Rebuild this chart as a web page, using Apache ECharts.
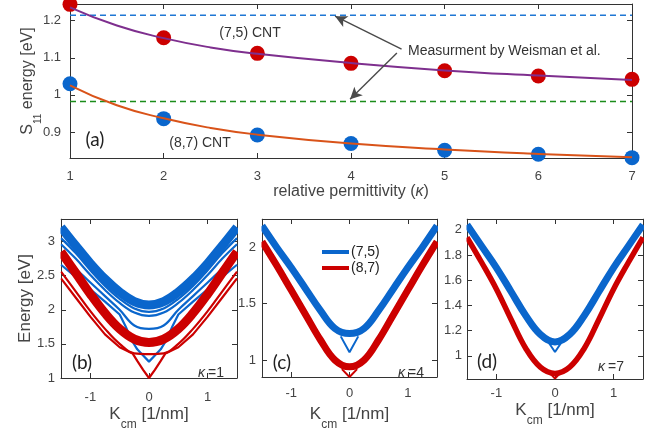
<!DOCTYPE html>
<html>
<head>
<meta charset="utf-8">
<script src="https://cdn.jsdelivr.net/npm/echarts@6/dist/echarts.min.js"></script>
<style>
  html, body { margin: 0; padding: 0; background: #fff; }
  #chart { width: 667px; height: 432px; }
</style>
</head>
<body>
<div id="chart"></div>
<script>
// ---- panel (a): S11 energy vs relative permittivity ----
const kappa = [1, 2, 3, 4, 5, 6, 7]
const s11_75 = [1.244, 1.154, 1.112, 1.085, 1.065, 1.051, 1.042]
const s11_87 = [1.030, 0.936, 0.892, 0.869, 0.851, 0.840, 0.831]
const kappaFit = [1, 1.5, 2, 2.5, 3, 4, 5, 6, 7]
const fit_75 = [1.236, 1.187, 1.153, 1.128, 1.111, 1.086, 1.066, 1.052, 1.040]
const fit_87 = [1.026, 0.972, 0.937, 0.911, 0.893, 0.869, 0.853, 0.841, 0.832]
const meas_75 = 1.215
const meas_87 = 0.982

// ---- panels (b)-(d): exciton bands, half branch k >= 0 (mirrored) ----
const kHalf = [0, 0.25, 0.5, 0.75, 1, 1.25, 1.5]
// (b) kappa = 1
const b75Band = [2.07, 2.12, 2.26, 2.45, 2.68, 2.94, 3.21]
const b75L1 = [1.97, 2.02, 2.16, 2.35, 2.58, 2.83, 3.05]
const b75L2 = [1.91, 1.96, 2.10, 2.29, 2.51, 2.75, 2.96]
const b75L3 = [1.72, 1.77, 2.00, 2.20, 2.40, 2.60, 2.80]
const kVb75 = [0, 0.1, 0.2, 0.3, 0.4, 0.5, 0.75, 1, 1.25, 1.5]
const b75V = [1.24, 1.33, 1.42, 1.56, 1.76, 1.93, 2.12, 2.30, 2.48, 2.66]
const b87Band = [1.52, 1.57, 1.72, 1.95, 2.23, 2.54, 2.85]
const b87L1 = [1.35, 1.36, 1.50, 1.72, 1.98, 2.27, 2.56]
const kVb87 = [0, 0.1, 0.2, 0.28, 0.5, 0.75, 1, 1.25, 1.5]
const b87V = [1.00, 1.12, 1.25, 1.36, 1.45, 1.64, 1.90, 2.18, 2.46]
// (c) kappa = 4
const c75Band = [1.235, 1.28, 1.44, 1.63, 1.82, 2.00, 2.19]
const c87Band = [0.94, 1.00, 1.18, 1.40, 1.62, 1.84, 2.05]
const kVc75 = [0, 0.15]
const c75V = [1.07, 1.21]
const kVc87 = [0, 0.13]
const c87V = [0.85, 0.92]
// (d) kappa = 7
const d75Band = [1.11, 1.17, 1.32, 1.51, 1.70, 1.87, 2.04]
const d87Band = [0.86, 0.91, 1.06, 1.29, 1.53, 1.74, 1.94]
const kVd75 = [0, 0.1]
const d75V = [1.03, 1.10]
const kVd87 = [0, 0.08]
const d87V = [0.82, 0.86]

const kTicks = [-1, 0, 1]

const BLUE = '#0a66cc'
const RED = '#cc0000'
const AX = '#333333'
const TXT = '#444444'
const FONT = 'Liberation Sans'

const mirror = (ks, vals) => {
  const out = []
  for (let i = ks.length - 1; i > 0; i--) out.push([-ks[i], vals[i]])
  for (let i = 0; i < ks.length; i++) out.push([ks[i], vals[i]])
  return out
}

const axisBase = (ticks, extra) => Object.assign({
  type: 'value',
  nameMoveOverlap: false,
  axisLine: { show: true, onZero: false, lineStyle: { color: AX, width: 1 } },
  axisTick: { show: true, inside: true, length: 5, lineStyle: { color: AX }, customValues: ticks },
  axisLabel: { color: TXT, fontSize: 13, fontFamily: FONT, customValues: ticks },
  splitLine: { show: false }
}, extra)

const xAxes = []
const yAxes = []
const addBox = (grid, xr, yr, xt, yt, xName, yName) => {
  xAxes.push(axisBase(xt, Object.assign({ gridIndex: grid, min: xr[0], max: xr[1], position: 'bottom' }, xName)))
  const top = axisBase(xt, { gridIndex: grid, min: xr[0], max: xr[1], position: 'top' })
  top.axisLabel = { show: false, customValues: xt }
  xAxes.push(top)
  yAxes.push(axisBase(yt, Object.assign({ gridIndex: grid, min: yr[0], max: yr[1], position: 'left' }, yName)))
  const right = axisBase(yt, { gridIndex: grid, min: yr[0], max: yr[1], position: 'right' })
  right.axisLabel = { show: false, customValues: yt }
  yAxes.push(right)
}

const kcmName = gap => ({
  name: '{a|K}{s|cm}{a| [1/nm]}',
  nameLocation: 'middle',
  nameGap: gap,
  nameTextStyle: {
    rich: {
      a: { fontSize: 17, color: TXT, fontFamily: FONT, lineHeight: 20 },
      s: { fontSize: 12, color: TXT, fontFamily: FONT, lineHeight: 20, verticalAlign: 'bottom', padding: [0, 0, -7, 0] }
    }
  }
})

// (a)
addBox(0, [1, 7], [0.83, 1.245], kappa, [0.9, 1, 1.1, 1.2],
  {
    axisLabel: { color: TXT, fontSize: 13, fontFamily: FONT, margin: 12, customValues: kappa },
    name: '{a|relative permittivity (}{i|κ}{a|)}',
    nameLocation: 'middle',
    nameGap: 26,
    nameTextStyle: {
      rich: {
        a: { fontSize: 16, color: TXT, fontFamily: FONT },
        i: { fontSize: 16, color: TXT, fontFamily: FONT, fontStyle: 'italic' }
      }
    }
  },
  {
    axisLabel: { color: TXT, fontSize: 13, fontFamily: FONT, margin: 9, customValues: [0.9, 1, 1.1, 1.2] },
    name: '{a|S}{s|11}{a| energy [eV]}',
    nameLocation: 'middle',
    nameGap: 33,
    nameTextStyle: {
      rich: {
        a: { fontSize: 16, color: TXT, fontFamily: FONT, lineHeight: 18 },
        s: { fontSize: 10, color: TXT, fontFamily: FONT, lineHeight: 18, verticalAlign: 'bottom', padding: [0, 0, -6, 0] }
      }
    }
  })
// (b)
addBox(1, [-1.5, 1.5], [1, 3.33], kTicks, [1, 1.5, 2, 2.5, 3],
  Object.assign({ axisLabel: { color: TXT, fontSize: 13, fontFamily: FONT, margin: 13, customValues: kTicks } }, kcmName(26)),
  {
    axisLabel: { color: TXT, fontSize: 13, fontFamily: FONT, margin: 6, customValues: [1, 1.5, 2, 2.5, 3] },
    name: 'Energy [eV]', nameLocation: 'middle', nameGap: 27,
    nameTextStyle: { fontSize: 17, color: TXT, fontFamily: FONT }
  })
// (c)
addBox(2, [-1.5, 1.5], [0.85, 2.25], kTicks, [1, 1.5, 2],
  Object.assign({ axisLabel: { color: TXT, fontSize: 13, fontFamily: FONT, margin: 10, customValues: kTicks } }, kcmName(27)),
  { axisLabel: { color: TXT, fontSize: 13, fontFamily: FONT, margin: 6, customValues: [1, 1.5, 2] } })
// (d)
addBox(3, [-1.5, 1.5], [0.816, 2.085], kTicks, [1, 1.2, 1.4, 1.6, 1.8, 2],
  Object.assign({ axisLabel: { color: TXT, fontSize: 13, fontFamily: FONT, margin: 8, customValues: kTicks } }, kcmName(21)),
  { axisLabel: { color: TXT, fontSize: 13, fontFamily: FONT, margin: 5, customValues: [1, 1.2, 1.4, 1.6, 1.8, 2] } })

const band = (grid, data, color, width, name, smooth) => ({
  type: 'line',
  name: name,
  xAxisIndex: grid * 2,
  yAxisIndex: grid * 2,
  data: data,
  showSymbol: false,
  smooth: smooth === undefined ? 0.4 : smooth,
  lineStyle: { color: color, width: width, cap: 'butt' },
  itemStyle: { color: color },
  silent: true
})

const series = [
  // (a) measurement lines
  {
    type: 'line', xAxisIndex: 0, yAxisIndex: 0, showSymbol: false, silent: true,
    data: [[1, meas_75], [7, meas_75]],
    lineStyle: { color: '#1f77d4', width: 1.5, type: [6, 4] },
    markLine: {
      silent: true,
      symbol: ['none', 'arrow'],
      symbolSize: [9, 12],
      label: { show: false },
      lineStyle: { color: '#4a4a4a', width: 1.4, type: 'solid' },
      data: [
        [{ coord: [4.54, 1.1235] }, { coord: [3.83, 1.212] }],
        [{ coord: [4.49, 1.113] }, { coord: [3.99, 0.988] }]
      ]
    }
  },
  {
    type: 'line', xAxisIndex: 0, yAxisIndex: 0, showSymbol: false, silent: true,
    data: [[1, meas_87], [7, meas_87]],
    lineStyle: { color: '#1a8c1a', width: 1.5, type: [6, 4] }
  },
  {
    type: 'line', xAxisIndex: 0, yAxisIndex: 0, showSymbol: false, smooth: 0.5, silent: true,
    data: kappaFit.map((k, i) => [k, fit_75[i]]),
    lineStyle: { color: '#7e2f8e', width: 2 }
  },
  {
    type: 'line', xAxisIndex: 0, yAxisIndex: 0, showSymbol: false, smooth: 0.5, silent: true,
    data: kappaFit.map((k, i) => [k, fit_87[i]]),
    lineStyle: { color: '#d95319', width: 2 }
  },
  {
    type: 'scatter', xAxisIndex: 0, yAxisIndex: 0, symbolSize: 15, clip: false, silent: true,
    data: kappa.map((k, i) => [k, s11_75[i]]),
    itemStyle: { color: RED, opacity: 1 }
  },
  {
    type: 'scatter', xAxisIndex: 0, yAxisIndex: 0, symbolSize: 15, clip: false, silent: true,
    data: kappa.map((k, i) => [k, s11_87[i]]),
    itemStyle: { color: BLUE, opacity: 1 }
  },
  // (b)
  band(1, mirror(kHalf, b75Band), BLUE, 9),
  band(1, mirror(kHalf, b75L1), BLUE, 2.2),
  band(1, mirror(kHalf, b75L2), BLUE, 2.2),
  band(1, mirror(kHalf, b75L3), BLUE, 2.2),
  band(1, mirror(kVb75, b75V), BLUE, 2.2, undefined, false),
  band(1, mirror(kHalf, b87Band), RED, 9),
  band(1, mirror(kHalf, b87L1), RED, 2.2),
  band(1, mirror(kVb87, b87V), RED, 2.2, undefined, false),
  // (c)
  band(2, mirror(kHalf, c75Band), BLUE, 7, '(7,5)'),
  band(2, mirror(kVc75, c75V), BLUE, 2, undefined, false),
  band(2, mirror(kHalf, c87Band), RED, 7, '(8,7)'),
  band(2, mirror(kVc87, c87V), RED, 2, undefined, false),
  // (d)
  band(3, mirror(kHalf, d75Band), BLUE, 7),
  band(3, mirror(kVd75, d75V), BLUE, 2, undefined, false),
  band(3, mirror(kHalf, d87Band), RED, 5.5),
  band(3, mirror(kVd87, d87V), RED, 2, undefined, false)
]

const txt = (x, y, text, size, extra) => ({
  type: 'text', x: x, y: y, silent: true, z: 120,
  style: Object.assign({
    text: text, fill: '#333', fontSize: size, fontFamily: FONT,
    align: 'center', verticalAlign: 'middle'
  }, extra)
})
const panelLabel = (x, y, t) => txt(x, y, t, 19, { fontFamily: 'Lato', fill: '#222' })
const kappaLabel = (x, y, v) => [
  txt(x - 2, y, 'κ', 14, { align: 'right', fontStyle: 'italic' }),
  txt(x + 1, y, '=' + v, 14, { align: 'left' })
]

// white strips hiding the part of the thick band strokes that pokes past the frames
const mask = (x, y, w, h) => ({
  type: 'rect', silent: true, z: 100,
  shape: { x: x, y: y, width: w, height: h },
  style: { fill: '#fff' }
})

const option = {
  animation: false,
  backgroundColor: '#fff',
  grid: [
    { left: 70, right: 35, top: 4, bottom: 274 },
    { left: 61, right: 430, top: 219, bottom: 53 },
    { left: 262, right: 230, top: 219, bottom: 53 },
    { left: 467, right: 24, top: 219, bottom: 53 }
  ],
  xAxis: xAxes,
  yAxis: yAxes,
  legend: {
    data: ['(7,5)', '(8,7)'],
    orient: 'vertical',
    left: 322, top: 245,
    padding: 0,
    itemGap: 2,
    itemWidth: 27, itemHeight: 4,
    icon: 'rect',
    selectedMode: false,
    textStyle: { fontSize: 14, color: '#222', fontFamily: FONT, padding: [0, 0, 0, -3] }
  },
  graphic: [
    mask(55.5, 212, 5, 90),
    mask(238, 212, 5, 75),
    mask(55, 212, 190, 6.5),
    mask(256.5, 212, 5, 50),
    mask(438, 212, 4.5, 45),
    mask(255, 212, 190, 6.5),
    mask(461.5, 212, 5, 40),
    mask(644, 212, 6, 40),
    mask(460, 212, 190, 6.5),
    txt(250, 33, '(7,5) CNT', 14),
    txt(200, 143, '(8,7) CNT', 14),
    txt(408, 51, 'Measurment by Weisman et al.', 14, { align: 'left' }),
    panelLabel(95, 140, '(a)'),
    panelLabel(82, 363, '(b)'),
    panelLabel(282, 363, '(c)'),
    panelLabel(487, 362, '(d)')
  ].concat(kappaLabel(207, 373, 1), kappaLabel(407, 373, 4), kappaLabel(607, 367, 7)),
  series: series
}

const chart = echarts.init(document.getElementById('chart'))
chart.setOption(option)
</script>
</body>
</html>
